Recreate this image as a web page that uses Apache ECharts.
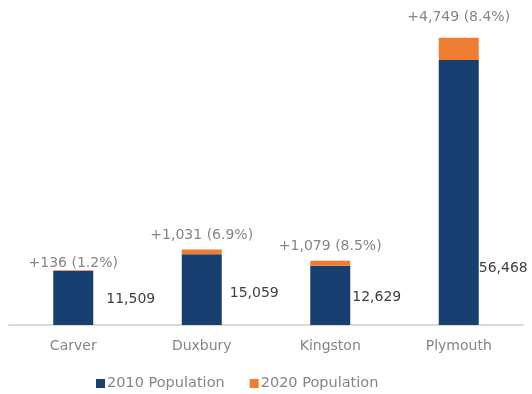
<!DOCTYPE html>
<html>
<head>
<meta charset="utf-8">
<script src="https://cdn.jsdelivr.net/npm/echarts@6/dist/echarts.min.js"></script>
<style>
  html, body { margin: 0; padding: 0; background: #ffffff; }
  #chart { width: 532px; height: 394px; }
</style>
</head>
<body>
<div id="chart"></div>
<script>
// Town populations, 2010 base plus growth to 2020
const towns = ['Carver', 'Duxbury', 'Kingston', 'Plymouth'];
const pop2010 = [11509, 15059, 12629, 56468];
const growth = [136, 1031, 1079, 4749];
const growthPct = ['1.2%', '6.9%', '8.5%', '8.4%'];

// Per-bar label placement tweaks
const valueLabelDist = [13, 8, 2, 0];
const valueLabelDy = [1, 4, 2, 76];
const growthLabelDist = [0, 7, 7, 13];

const FONT = '"DejaVu Sans", "Noto Sans", sans-serif';
const BLUE = '#173f6f';
const ORANGE = '#ed7d31';

const chart = echarts.init(document.getElementById('chart'), null, { renderer: 'canvas' });

const fmt = n => n.toLocaleString('en-US');

chart.setOption({
  animation: false,
  backgroundColor: '#ffffff',
  grid: { left: 9, right: 9, top: 20, bottom: 69, containLabel: false },
  legend: {
    bottom: -2,
    left: 91,
    itemWidth: 9,
    itemHeight: 9,
    itemGap: 25,
    icon: 'rect',
    textStyle: { color: '#858585', fontSize: 14.5, fontFamily: FONT, padding: [0, 0, 0, -3] },
    data: ['2010 Population', '2020 Population']
  },
  xAxis: {
    type: 'category',
    data: towns,
    axisLine: { show: true, lineStyle: { color: '#d9d9d9', width: 2 } },
    axisTick: { show: false },
    axisLabel: { color: '#858585', fontSize: 14, fontFamily: FONT, margin: 14 }
  },
  yAxis: {
    type: 'value',
    min: 0,
    max: 65000,
    show: false,
    splitLine: { show: false }
  },
  series: [
    {
      name: '2010 Population',
      type: 'bar',
      stack: 'pop',
      barWidth: 40,
      itemStyle: { color: BLUE },
      data: pop2010.map((v, i) => ({
        value: v,
        label: {
          show: true,
          position: 'right',
          distance: valueLabelDist[i],
          offset: [0, valueLabelDy[i]],
          formatter: () => fmt(v),
          color: '#404040',
          fontSize: 14,
          fontFamily: FONT
        }
      }))
    },
    {
      name: '2020 Population',
      type: 'bar',
      stack: 'pop',
      barWidth: 40,
      itemStyle: { color: ORANGE },
      data: growth.map((v, i) => ({
        value: v,
        label: {
          show: true,
          position: 'top',
          distance: growthLabelDist[i],
          formatter: () => '+' + fmt(v) + ' (' + growthPct[i] + ')',
          color: '#858585',
          fontSize: 14,
          fontFamily: FONT
        }
      }))
    }
  ]
});
</script>
</body>
</html>
